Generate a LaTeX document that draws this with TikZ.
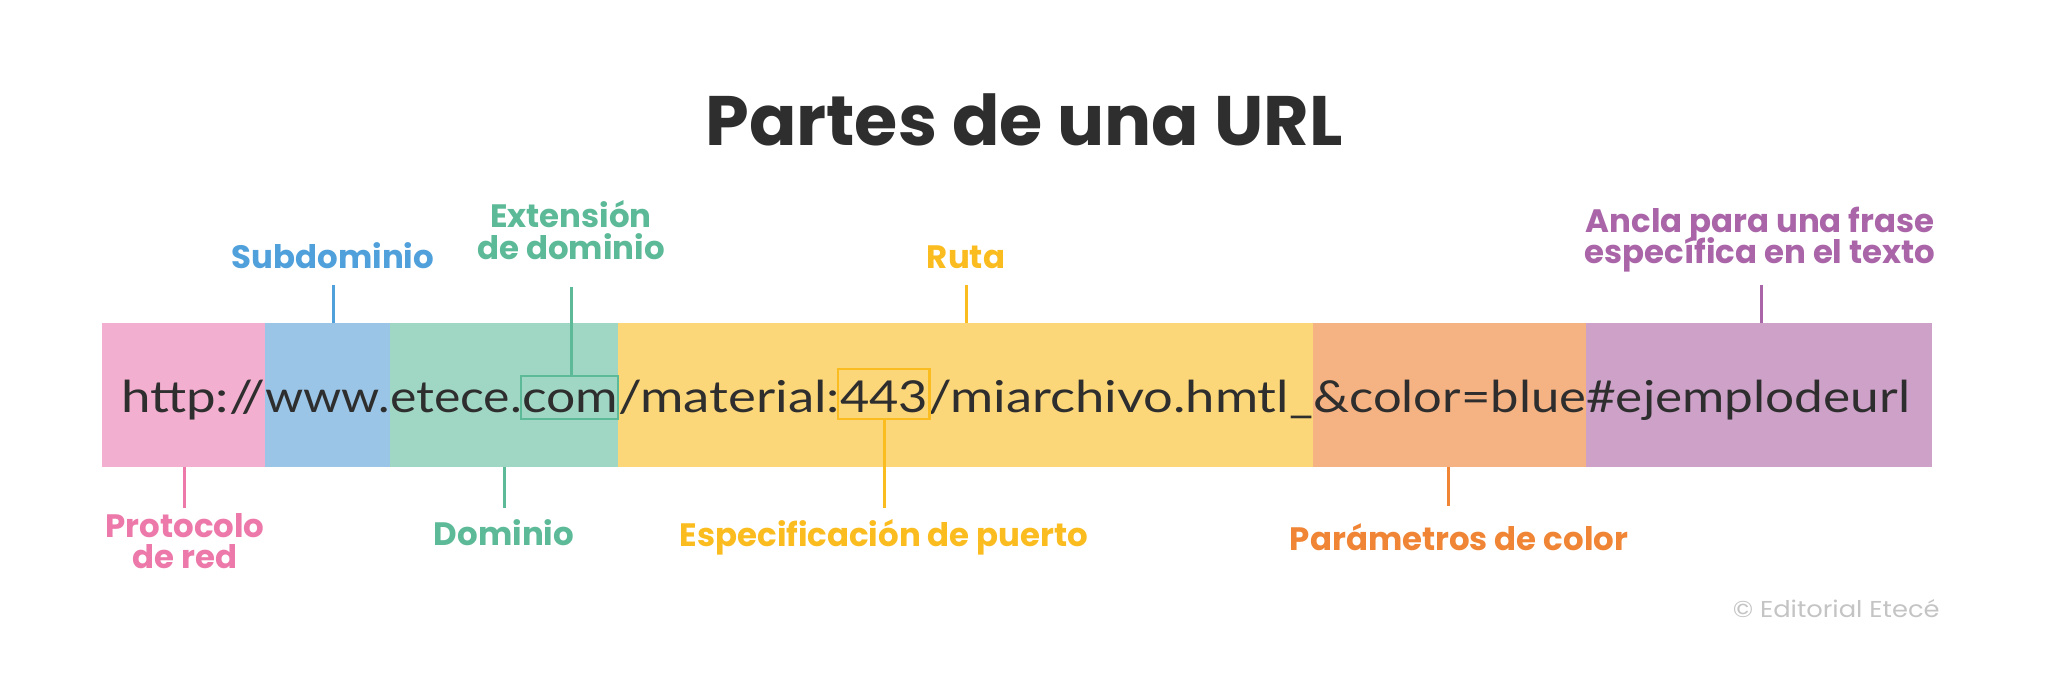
\documentclass[tikz,border=0pt]{standalone}
\usepackage{fontspec}
\setmainfont{Lato}
\newfontfamily\popfam{Poppins}
\usetikzlibrary{backgrounds}
\definecolor{cpink}{HTML}{F3AFCF}
\definecolor{cblue}{HTML}{9AC5E7}
\definecolor{cgreen}{HTML}{A0D6C4}
\definecolor{cyellow}{HTML}{FCD77A}
\definecolor{corange}{HTML}{F5B383}
\definecolor{cpurple}{HTML}{CDA1C8}
\definecolor{dpink}{HTML}{EC79A9}
\definecolor{dblue}{HTML}{4FA0DB}
\definecolor{dgreen}{HTML}{5CBA98}
\definecolor{dyellow}{HTML}{FBBC1F}
\definecolor{dorange}{HTML}{EF8535}
\definecolor{dpurple}{HTML}{A965A8}
\definecolor{ink}{HTML}{2E2E2E}
\definecolor{cgray}{HTML}{C4C4C4}
\newcommand\urlfnt{\fontsize{22pt}{26pt}\selectfont}
\newcommand\useg[2]{\resizebox{#1pt}{\height}{\urlfnt #2}}
\begin{document}
\begin{tikzpicture}[x=0.5pt,y=-0.5pt,
  lbl/.style={font=\popfam\fontsize{16.2pt}{19pt}\selectfont\bfseries, inner sep=0pt, anchor=base},
  urlseg/.style={inner sep=0pt, outer sep=0pt, anchor=base west, text=ink},
  conn/.style={line width=1.5pt},
  boxline/.style={line width=1.3pt}]
\useasboundingbox (0,0) rectangle (2048,689);
% title
\node[anchor=base, inner sep=0pt, text=ink] (title) at (1024,146)
  {\resizebox{318.5pt}{!}{\popfam\bfseries Partes de una URL}};
% bar coordinates
\coordinate (barTL) at (102,323);
\coordinate (barBR) at (1932,467);
\coordinate (barT) at (0,323);
\coordinate (barB) at (0,467);
\coordinate (comT) at (0,376);
\coordinate (comB) at (0,419);
\coordinate (portT) at (0,369);
% url text
\node[urlseg] (u1) at (121,412) {\useg{72}{http://}};
\node[urlseg] (u2) at (u1.base east) {\useg{62.5}{www.}};
\node[urlseg] (u3) at (u2.base east) {\useg{66}{etece.}};
\node[urlseg] (u4) at (u3.base east) {\useg{48}{com}};
\node[urlseg] (u5) at (u4.base east) {\useg{111}{/material:}};
\node[urlseg] (u6) at (u5.base east) {\useg{44}{443}};
\node[urlseg] (u7) at (u6.base east) {\useg{192.5}{/miarchivo.hmtl\_}};
\node[urlseg] (u8) at (u7.base east) {\useg{136.5}{\&color=blue}};
\node[urlseg] (u9) at (u8.base east) {\useg{162}{\#ejemplodeurl}};
\begin{scope}[on background layer]
  \fill[white] (0,0) rectangle (2048,689);
  \fill[cpink] (barTL) rectangle (u1.east |- barB);
  \fill[cblue] (u1.east |- barT) rectangle (u2.east |- barB);
  \fill[cgreen] (u2.east |- barT) rectangle (u4.east |- barB);
  \fill[cyellow] (u4.east |- barT) rectangle (u7.east |- barB);
  \fill[corange] (u7.east |- barT) rectangle (u8.east |- barB);
  \fill[cpurple] (u8.east |- barT) rectangle (barBR);
\end{scope}
% boxes
\draw[boxline, dgreen] ([xshift=-0.5pt]u4.west |- comT) rectangle (u4.east |- comB);
\draw[boxline, dyellow] ([xshift=-1pt]u6.west |- portT) rectangle ([xshift=0.75pt]u6.east |- comB);
% top labels
\node[lbl, text=dblue] (lsub) at (333,269) {Subdominio};
\node[lbl, text=dgreen] (lext1) at (571,228) {Extensión};
\node[lbl, text=dgreen] (lext2) at (571,260) {de dominio};
\node[lbl, text=dyellow] (lruta) at (966,269) {Ruta};
\node[lbl, text=dpurple] (lanc1) at (1760,233) {Ancla para una frase};
\node[lbl, text=dpurple] (lanc2) at (1760,264) {específica en el texto};
% bottom labels
\node[lbl, text=dpink] (lpro1) at (185,537) {Protocolo};
\node[lbl, text=dpink] (lpro2) at (185,568) {de red};
\node[lbl, text=dgreen] (ldom) at (504,545) {Dominio};
\node[lbl, text=dyellow] (lport) at (884,546) {Especificación de puerto};
\node[lbl, text=dorange] (lpar) at (1459,550) {Parámetros de color};
% connector ends
\coordinate (subA) at (333,285);
\coordinate (extA) at (571,287);
\coordinate (rutA) at (966,285);
\coordinate (ancA) at (1761,285);
\coordinate (proA) at (184,508);
\coordinate (domA) at (504,508);
\coordinate (porA) at (884,508);
\coordinate (parA) at (1448,506);
\draw[conn, dblue] (subA) -- (subA |- barT);
\draw[conn, dgreen] (extA) -- (extA |- comT);
\draw[conn, dyellow] (rutA) -- (rutA |- barT);
\draw[conn, dpurple] (ancA) -- (ancA |- barT);
\draw[conn, dpink] (proA) -- (proA |- barB);
\draw[conn, dgreen] (domA) -- (domA |- barB);
\draw[conn, dyellow] (porA) -- (porA |- comB);
\draw[conn, dorange] (parA) -- (parA |- barB);
% copyright
\node[anchor=base east, inner sep=0pt, text=cgray] (copy) at (1940,617)
  {\scalebox{1.12}[1]{\popfam\fontsize{11.5pt}{13pt}\selectfont © Editorial Etecé}};
\end{tikzpicture}
\end{document}
